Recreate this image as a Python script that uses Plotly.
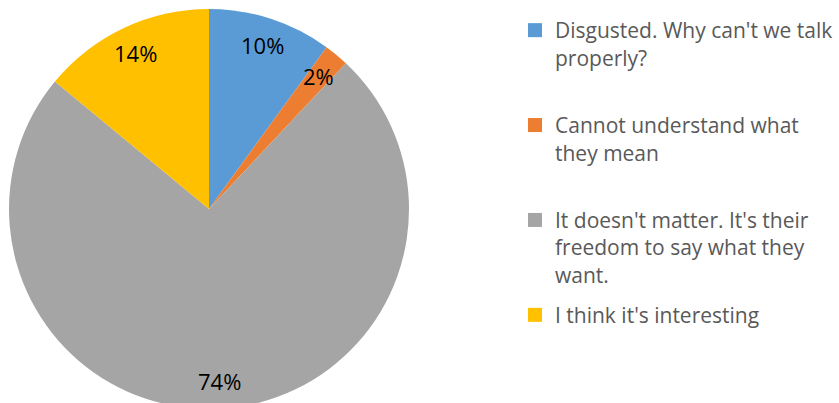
import numpy as np
import plotly.graph_objects as go

# Survey answers and their shares (%)
categories = [
    "Disgusted. Why can't we talk<br>properly?<br> ",
    "Cannot understand what<br>they mean<br> ",
    "It doesn't matter. It's their<br>freedom to say what they<br>want.",
    "I think it's interesting",
]
values = [10, 2, 74, 14]
colors = ["#5B9BD5", "#ED7D31", "#A5A5A5", "#FFC000"]

W, H = 839, 418
cx, cy, R = 209, 209, 200  # pie centre and radius, px from top-left

fig = go.Figure()
fig.add_trace(
    go.Pie(
        labels=categories,
        values=values,
        marker=dict(colors=colors, line=dict(width=0)),
        sort=False,
        direction="clockwise",
        rotation=0,
        textinfo="none",
        hoverinfo="label+percent",
        showlegend=False,
        domain=dict(
            x=[(cx - R) / W, (cx + R) / W],
            y=[(H - cy - R) / H, (H - cy + R) / H],
        ),
    )
)

# Legend entries, one group per answer so the spacing can be set
for i, (name, col) in enumerate(zip(categories, colors)):
    fig.add_trace(
        go.Scatter(
            x=[None], y=[None], mode="markers", name=name,
            legendgroup=f"g{i}",
            marker=dict(symbol="square", size=14, color=col),
            hoverinfo="skip",
        )
    )

# Percentage labels at 85% of the radius, on each slice's mid-angle
vals = np.array(values, dtype=float)
shares = vals / vals.sum()
mid = (np.cumsum(shares) - shares / 2) * 2 * np.pi
for s, a in zip(shares, mid):
    px = cx + 0.86 * R * np.sin(a)
    py = cy - 0.86 * R * np.cos(a)
    fig.add_annotation(
        x=px / W, y=1 - py / H, xref="paper", yref="paper",
        xanchor="center", yanchor="middle",
        text=f"{round(s * 100)}%", showarrow=False,
        font=dict(family="Open Sans", size=22, color="#000000"),
    )

fig.update_layout(
    width=W, height=H,
    margin=dict(l=0, r=0, t=0, b=0),
    paper_bgcolor="white",
    plot_bgcolor="rgba(0,0,0,0)",
    xaxis=dict(visible=False),
    yaxis=dict(visible=False),
    showlegend=True,
    legend=dict(
        x=515 / W, y=1 - 10 / H, xanchor="left", yanchor="top",
        valign="top", traceorder="grouped", tracegroupgap=10,
        font=dict(family="Open Sans", size=21, color="#595959"),
        bgcolor="rgba(0,0,0,0)",
    ),
)

fig.write_html(
    "out.html",
    post_script="document.documentElement.style.overflow='hidden';document.body.style.overflow='hidden';",
)
